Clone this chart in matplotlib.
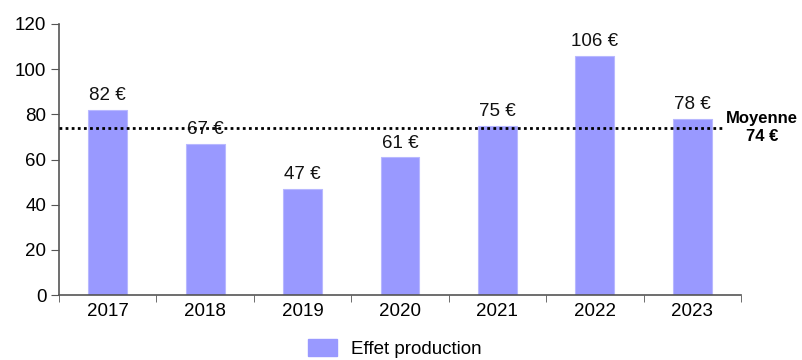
import matplotlib
matplotlib.use("Agg")
import matplotlib.pyplot as plt
from matplotlib.patches import Patch
import numpy as np

plt.rcParams['font.family'] = ['Liberation Sans', 'DejaVu Sans']

years = ["2017", "2018", "2019", "2020", "2021", "2022", "2023"]
effet_production = [82, 67, 47, 61, 75, 106, 78]
moyenne = 74
yticks = [0, 20, 40, 60, 80, 100, 120]

bar_color = "#9999FF"
axis_color = "#555555"

fig = plt.figure(figsize=(8.02, 3.6), dpi=100)
ax = fig.add_axes([59 / 802, 1 - 295 / 360, (741 - 59) / 802, (295 - 24) / 360])

x = np.arange(len(years))
bars = ax.bar(x, effet_production, width=0.4, color=bar_color,
              edgecolor="#B8B8FF", linewidth=0.8, zorder=2)

for xi, v in zip(x, effet_production):
    ax.annotate(f"{v} €", (xi, v), xytext=(0, 4), textcoords="offset points",
                ha="center", va="bottom", fontsize=13.5, color="#111111", zorder=4)

# average line
ax.plot([-0.5, 6.32], [moyenne, moyenne], linestyle=(0, (1, 1.2)),
        color="black", linewidth=2, zorder=3, clip_on=False)
ax.annotate(f"Moyenne\n{moyenne} €", (6.32, moyenne), xytext=(2, 0),
            textcoords="offset points", ha="left", va="center",
            fontsize=12, fontweight="bold", linespacing=1.25,
            multialignment="center", annotation_clip=False)

ax.set_xlim(-0.5, len(years) - 0.5)
ax.set_ylim(0, 120)
ax.set_yticks(yticks)
ax.set_yticklabels([str(t) for t in yticks], fontsize=13.5)

ax.set_xticks(x)
ax.set_xticklabels(years, fontsize=13.5)
ax.tick_params(axis="x", length=0, pad=6)
ax.set_xticks(np.arange(-0.5, len(years) + 0.5, 1), minor=True)
ax.tick_params(axis="x", which="minor", length=5, color=axis_color, direction="out")
ax.tick_params(axis="y", length=6, color=axis_color, direction="out", pad=3)

for side in ("top", "right"):
    ax.spines[side].set_visible(False)
for side in ("left", "bottom"):
    ax.spines[side].set_color(axis_color)
    ax.spines[side].set_linewidth(1.2)

handles = [Patch(facecolor=bar_color, edgecolor=bar_color, label="Effet production")]
fig.legend(handles=handles, loc="lower center", bbox_to_anchor=(395 / 802, 0.0),
           frameon=False, fontsize=13.5, handlelength=1.55, handleheight=1.0,
           handletextpad=0.75, borderaxespad=0.0, borderpad=0.1)

fig.savefig("out.png", dpi=100)
